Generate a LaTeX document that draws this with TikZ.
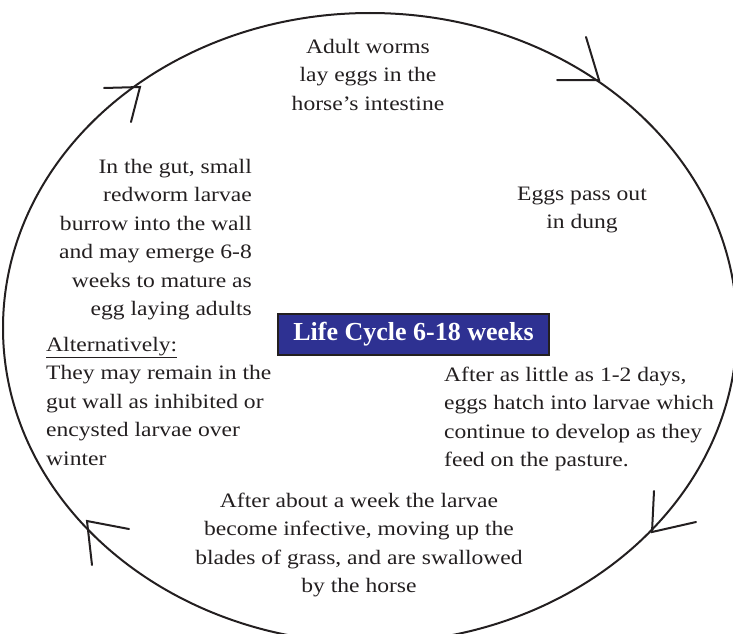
\documentclass[tikz,border=0pt]{standalone}
\usepackage{fontspec}
\setmainfont{Liberation Serif}[FakeStretch=1.15]
\newfontfamily\boxfont{Liberation Serif}
\definecolor{boxblue}{RGB}{46,49,146}
\definecolor{ink}{RGB}{35,31,32}
\newcommand{\hs}{\rule{0pt}{16pt}}
\begin{document}
\begin{tikzpicture}[x=1pt,y=-1pt,
  ring/.style={line width=2pt, draw=ink},
  barb/.style={line width=2pt, draw=ink, line cap=round},
  txt/.style={inner sep=0pt, text=ink, font=\fontsize{20.5}{28.5}\selectfont},
  titlebox/.style={draw=ink, line width=1.6pt, fill=boxblue, text=white,
    font=\boxfont\bfseries\fontsize{26}{30}\selectfont,
    minimum width=271pt, minimum height=41pt, inner sep=0pt}]
\useasboundingbox (0,0) rectangle (733,634);
\clip (0,0) rectangle (733,634);
% cycle ring
\draw[ring] (370,328) ellipse [x radius=367, y radius=315];
% arrow barbs on the ring
\coordinate (trTip) at (599,80);  \coordinate (trA) at (557,80);  \coordinate (trB) at (586,37);
\coordinate (tlTip) at (140,87);  \coordinate (tlA) at (104,88);  \coordinate (tlB) at (131,122);
\coordinate (brTip) at (652,532); \coordinate (brA) at (654,491); \coordinate (brB) at (696,522);
\coordinate (blTip) at (87,521);  \coordinate (blA) at (129,529); \coordinate (blB) at (92,565);
\draw[barb] (trA) -- (trTip) -- (trB);
\draw[barb] (tlA) -- (tlTip) -- (tlB);
\draw[barb] (brA) -- (brTip) -- (brB);
\draw[barb] (blA) -- (blTip) -- (blB);
% texts
\node[txt, anchor=north, align=center] (adult) at (368,37)
  {\hs Adult worms\\lay eggs in the\\horse’s intestine};
\node[txt, anchor=north east, align=right] (gut) at (252,157)
  {\hs In the gut, small\\redworm larvae\\burrow into the wall\\and may emerge 6-8\\weeks to mature as\\egg laying adults};
\node[txt, anchor=north, align=center] (eggs) at (582,184)
  {\hs Eggs pass out\\in dung};
\node[txt, anchor=north west, align=left] (alt) at (46,335)
  {\hs\underline{Alternatively:}\\They may remain in the\\gut wall as inhibited or\\encysted larvae over\\winter};
\node[txt, anchor=north west, align=left] (hatch) at (444,365)
  {\hs After as little as 1-2 days,\\eggs hatch into larvae which\\continue to develop as they\\feed on the pasture.};
\node[txt, anchor=north, align=center] (week) at (359,491)
  {\hs After about a week the larvae\\become infective, moving up the\\blades of grass, and are swallowed\\by the horse};
% central title
\node[titlebox] (lc) at (413.5,334.5) {Life Cycle 6-18 weeks};
\end{tikzpicture}
\end{document}
